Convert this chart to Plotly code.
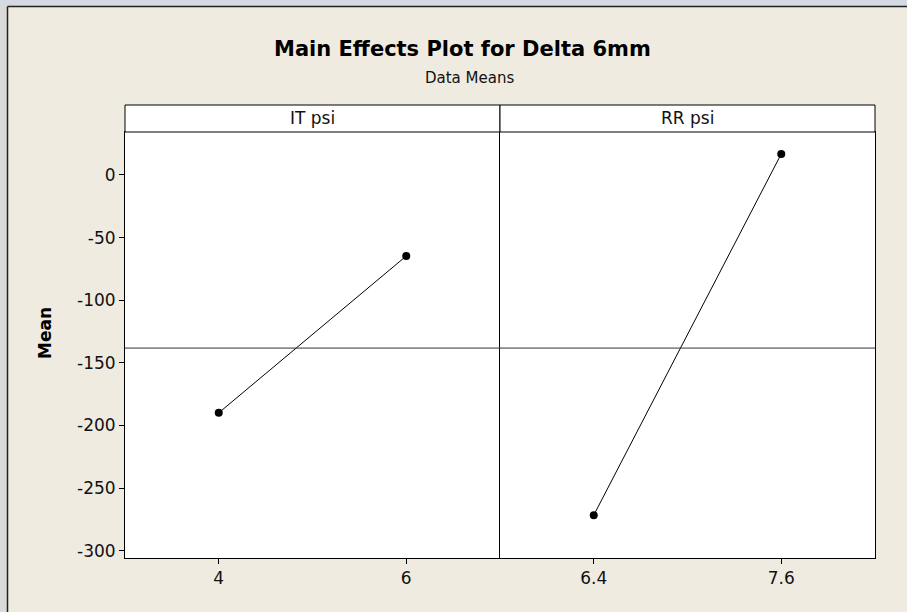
import plotly.graph_objects as go

# ---- data ----
it_levels = [4, 6]
it_means = [-189.9, -64.7]
rr_levels = [6.4, 7.6]
rr_means = [-271.6, 16.8]
grand_mean = -138.2
y_ticks = [0, -50, -100, -150, -200, -250, -300]
it_ticks = ["4", "6"]
rr_ticks = ["6.4", "7.6"]
panel_titles = ["IT psi", "RR psi"]

# ---- layout geometry (pixels) ----
W, H = 907, 612
L, R, T, B = 125, 875, 132, 558
PW, PH = R - L, B - T


def px(x):
    return (x - L) / PW


def py(y):
    return (B - y) / PH


FONT = "DejaVu Sans"
BG = "#EFEBE1"

fig = go.Figure()
fig.add_trace(go.Scatter(
    x=it_levels, y=it_means, mode="lines+markers", xaxis="x", yaxis="y",
    line=dict(color="black", width=1), marker=dict(color="black", size=8),
    showlegend=False, hoverinfo="skip"))
fig.add_trace(go.Scatter(
    x=rr_levels, y=rr_means, mode="lines+markers", xaxis="x2", yaxis="y2",
    line=dict(color="black", width=1), marker=dict(color="black", size=8),
    showlegend=False, hoverinfo="skip"))

axis_common = dict(showline=True, linecolor="black", linewidth=1,
                   ticks="outside", ticklen=5, tickcolor="black", showgrid=False,
                   zeroline=False, tickfont=dict(family=FONT, size=17, color="#111"))

fig.update_layout(
    width=W, height=H,
    margin=dict(l=L, r=W - R, t=T, b=H - B, pad=0),
    paper_bgcolor=BG, plot_bgcolor="white",
    xaxis=dict(domain=[0, 0.5], range=[3, 7], tickvals=it_levels, ticktext=it_ticks,
               anchor="y", mirror=True, **axis_common),
    xaxis2=dict(domain=[0.5, 1], range=[5.8, 8.2], tickvals=rr_levels, ticktext=rr_ticks,
                anchor="y2", mirror=True, **axis_common),
    yaxis=dict(range=[-305.8, 34.3], tickvals=y_ticks, ticktext=[str(v) for v in y_ticks],
               anchor="x", mirror=False, **axis_common),
    yaxis2=dict(range=[-305.8, 34.3], matches="y", anchor="x2", showline=True,
                linecolor="black", linewidth=1, mirror=True, showticklabels=False,
                ticks="", showgrid=False, zeroline=False),
)

shapes = []
# grand mean reference line
shapes.append(dict(type="line", xref="paper", yref="y", x0=0, x1=1,
                   y0=grand_mean, y1=grand_mean, line=dict(color="#333333", width=1)))
# strip boxes
for x0, x1 in [(0, 0.5), (0.5, 1)]:
    shapes.append(dict(type="rect", xref="paper", yref="paper", x0=x0, x1=x1,
                       y0=1, y1=py(105), fillcolor="white",
                       line=dict(color="black", width=1)))
# window border imitation
shapes.append(dict(type="rect", xref="paper", yref="paper", x0=px(0), x1=px(7),
                   y0=py(H), y1=py(0), fillcolor="#DADADA", line=dict(width=0), layer="below"))
shapes.append(dict(type="rect", xref="paper", yref="paper", x0=px(0), x1=px(W),
                   y0=py(6), y1=py(0), fillcolor="#D5DAE2", line=dict(width=0), layer="below"))
shapes.append(dict(type="line", xref="paper", yref="paper", x0=px(7.5), x1=px(7.5),
                   y0=py(H), y1=py(6.5), line=dict(color="#222", width=1.5)))
shapes.append(dict(type="line", xref="paper", yref="paper", x0=px(7.5), x1=px(W),
                   y0=py(6.5), y1=py(6.5), line=dict(color="#222", width=1.5)))
fig.update_layout(shapes=shapes)

ann = []
ann.append(dict(text="<b>Main Effects Plot for Delta 6mm</b>", xref="paper", yref="paper",
                x=px(462), y=py(49), showarrow=False, xanchor="center", yanchor="middle",
                font=dict(family=FONT, size=21, color="black")))
ann.append(dict(text="Data Means", xref="paper", yref="paper",
                x=px(469), y=py(78), showarrow=False, xanchor="center", yanchor="middle",
                font=dict(family=FONT, size=15, color="#111")))
for t, xc in zip(panel_titles, [0.25, 0.75]):
    ann.append(dict(text=t, xref="paper", yref="paper", x=xc, y=py(118.5),
                    showarrow=False, xanchor="center", yanchor="middle",
                    font=dict(family=FONT, size=17, color="#111")))
ann.append(dict(text="<b>Mean</b>", xref="paper", yref="paper", x=px(45), y=py(333),
                showarrow=False, textangle=-90, xanchor="center", yanchor="middle",
                font=dict(family=FONT, size=17, color="black")))
fig.update_layout(annotations=ann)

fig.write_html("out.html")
